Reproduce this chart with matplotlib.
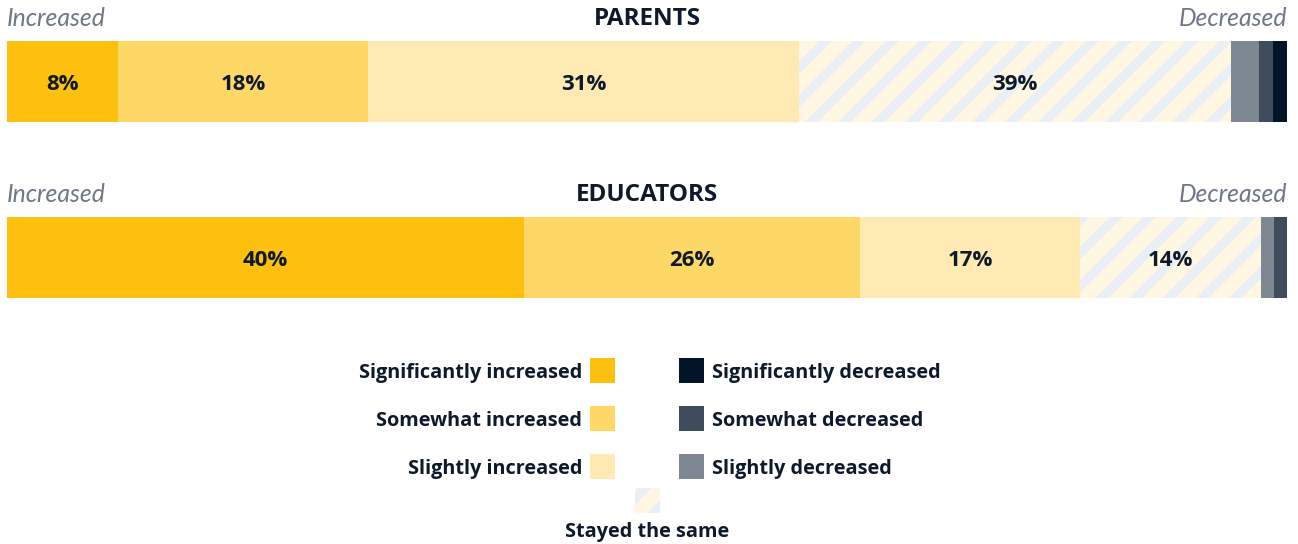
import matplotlib
matplotlib.use("Agg")
import matplotlib.pyplot as plt
from matplotlib.patches import Rectangle

plt.rcParams["font.family"] = ["Open Sans", "DejaVu Sans"]
plt.rcParams["hatch.linewidth"] = 6.5

# data
categories = [
    "Significantly increased",
    "Somewhat increased",
    "Slightly increased",
    "Stayed the same",
    "Slightly decreased",
    "Somewhat decreased",
    "Significantly decreased",
]
parents = [8.7, 19.5, 33.7, 33.7, 2.2, 1.1, 1.1]
parents_labels = ["8%", "18%", "31%", "39%", "", "", ""]
educators = [40, 26, 17, 14, 1, 1, 0]
educators_labels = ["40%", "26%", "17%", "14%", "", "", ""]

colors = ["#FDC00F", "#FED867", "#FEEAB2", "#FFF7E1", "#7E8893", "#3E4C5E", "#021427"]
hatch_color = "#EAEEF5"
dark = "#0E1A2B"
grey = "#6E7886"

W, H = 1298, 544
fig = plt.figure(figsize=(W / 100, H / 100), dpi=100)


def px_axes(x0, y0, x1, y1):
    return fig.add_axes([x0 / W, 1 - y1 / H, (x1 - x0) / W, (y1 - y0) / H])


def stacked(ax, values, labels):
    left = 0
    for i, (v, lab) in enumerate(zip(values, labels)):
        same = categories[i] == "Stayed the same"
        ax.barh(0, v, left=left, height=1, color=colors[i],
                edgecolor=hatch_color if same else "none",
                hatch="/" if same else None, linewidth=0)
        if lab:
            ax.text(left + v / 2, 0.04, lab, ha="center", va="center",
                    fontsize=16, fontweight="bold", color=dark)
        left += v
    ax.set_xlim(0, sum(values))
    ax.set_ylim(0.5, -0.5)
    ax.axis("off")


stacked(px_axes(7, 41, 1287, 122), parents, parents_labels)
stacked(px_axes(7, 217, 1287, 298), educators, educators_labels)

# overlay for headers and legend, in pixel coordinates
ov = fig.add_axes([0, 0, 1, 1], zorder=-1)
ov.set_xlim(0, W)
ov.set_ylim(H, 0)
ov.axis("off")

for title, y in [("PARENTS", 19), ("EDUCATORS", 195)]:
    ov.text(647, y, title, ha="center", va="center", fontsize=17.5,
            fontweight="bold", color=dark)
    ov.text(7, y, "Increased", ha="left", va="center", fontsize=17.8,
            style="italic", color=grey, family=["Lato", "DejaVu Sans"])
    ov.text(1287, y, "Decreased", ha="right", va="center", fontsize=17.8,
            style="italic", color=grey, family=["Lato", "DejaVu Sans"])

rows = [371, 419, 467]
for i, y in enumerate(rows):
    ov.add_patch(Rectangle((590, y - 13), 25, 25, color=colors[i], lw=0))
    ov.text(582, y + 2, categories[i], ha="right", va="center", fontsize=14.3,
            fontweight="bold", color=dark)
    j = 6 - i
    ov.add_patch(Rectangle((679, y - 13), 25, 25, color=colors[j], lw=0))
    ov.text(712, y + 2, categories[j], ha="left", va="center", fontsize=14.3,
            fontweight="bold", color=dark)

ov.add_patch(Rectangle((635, 488), 25, 25, facecolor=colors[3],
                       edgecolor=hatch_color, hatch="/", lw=0))
ov.text(647, 532, categories[3], ha="center", va="center", fontsize=14.3,
        fontweight="bold", color=dark)

fig.savefig("out.png", dpi=100)
